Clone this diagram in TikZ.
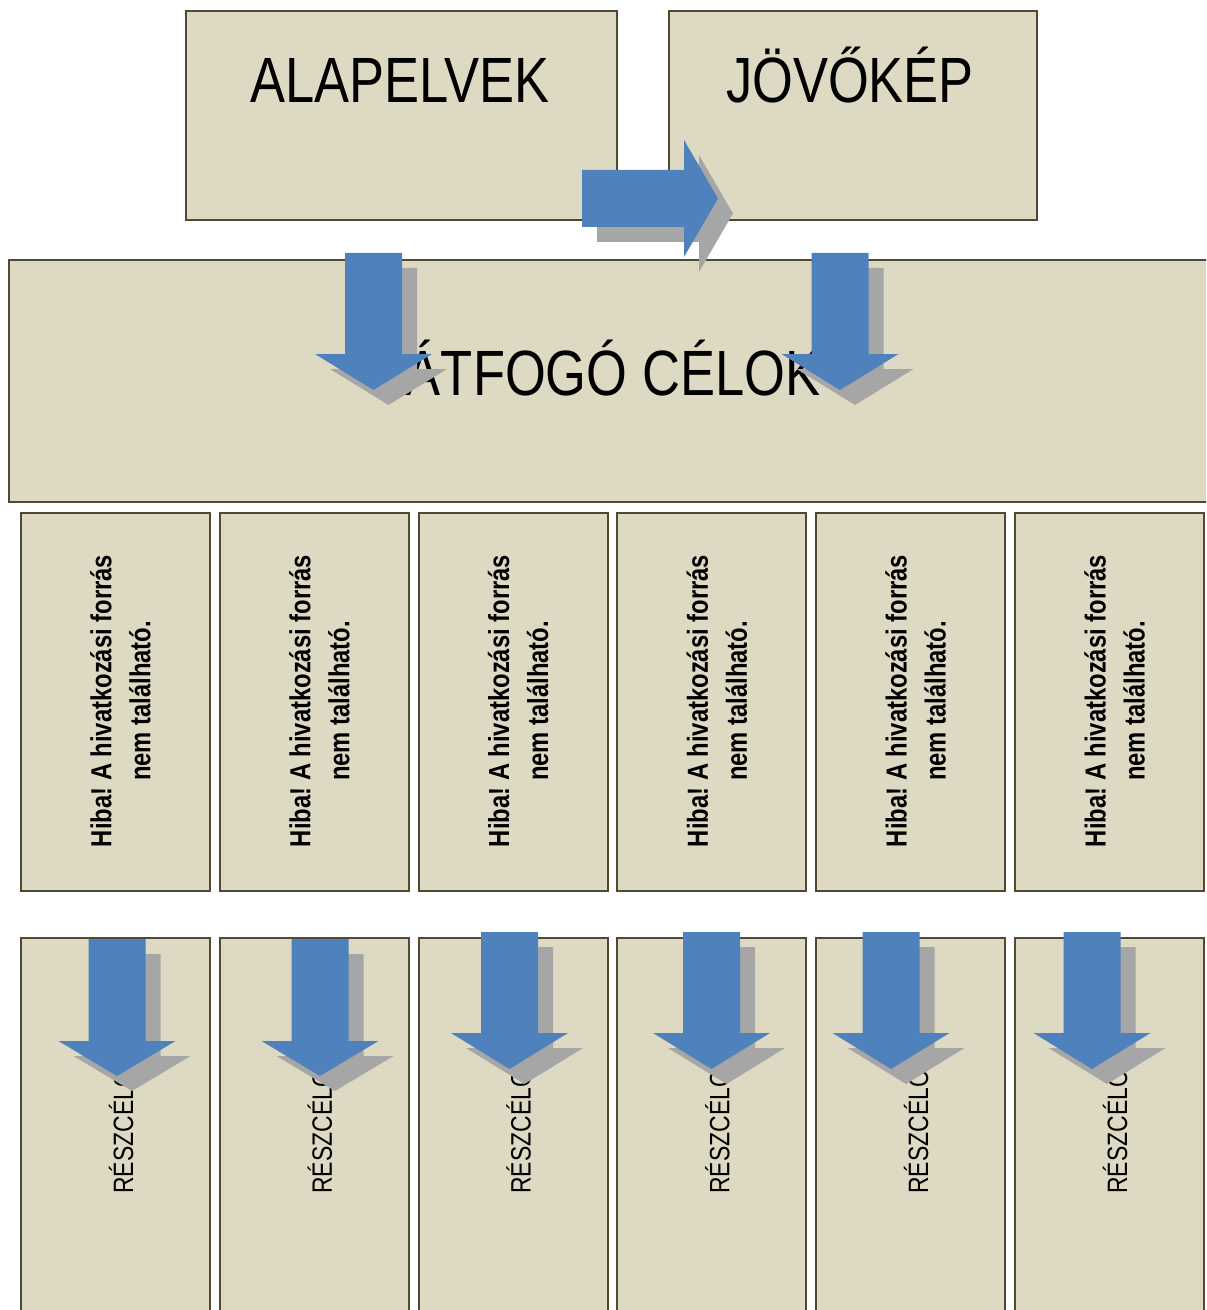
\documentclass[tikz,border=0pt]{standalone}
\usepackage{fontspec}
\setmainfont{Liberation Sans}[FakeStretch=0.82]
\definecolor{boxfill}{RGB}{221, 217, 195}
\definecolor{boxline}{RGB}{80, 74, 50}
\definecolor{arrowblue}{RGB}{79, 129, 189}
\definecolor{shadowgray}{RGB}{166, 166, 166}
\usepackage{tikz}
\frenchspacing

\begin{document}
\begin{tikzpicture}[x=0.5pt, y=-0.5pt,
  box/.style={draw=boxline, line width=1pt, fill=boxfill, inner sep=0pt, anchor=north west},
  title/.style={font=\fontsize{32}{38}\selectfont, inner sep=0pt, anchor=base},
  errtext/.style={font=\fontsize{14.5}{19.5}\selectfont\bfseries, rotate=90, align=center, inner sep=0pt},
  subtext/.style={font=\fontsize{14}{17}\selectfont, rotate=90, anchor=base west, inner sep=0pt},
]
\useasboundingbox (0,0) rectangle (1206,1310);
\clip (0,0) rectangle (1206,1310);

% Top row
\node[box, minimum width=215.5pt, minimum height=104.5pt] (alap) at (185, 10) {};
\node[title] (alaptxt) at (400, 103) {ALAPELVEK};
\node[box, minimum width=184pt, minimum height=104.5pt] (jovo) at (668, 10) {};
\node[title] (jovotxt) at (850, 103) {JÖVŐKÉP};

% Overall goals
\node[box, minimum width=603.5pt, minimum height=121pt] (atfogo) at (8, 259) {};
\node[title] (atfogotxt) at (613, 395) {ÁTFOGÓ CÉLOK};

% Columns
\foreach \i [evaluate=\i as \bx using 20+198.8*(\i-1)] in {1,...,6} {
  \node[box, minimum width=94.5pt, minimum height=189pt] (hiba\i) at (\bx, 512) {};
  \node[errtext] (hibatxt\i) at (\bx+100.5, 701) {Hiba! A hivatkozási forrás\\nem található.};
  \node[box, minimum width=94.5pt, minimum height=191.5pt] (resz\i) at (\bx, 937) {};
  \node[subtext] (resztxt\i) at (\bx+113, 1194) {RÉSZCÉLOK};
}

% Right arrow
\fill[shadowgray, shift={(15,15)}] (582,170) -- (684,170) -- (684,140) -- (718,198.5)
  -- (684,257) -- (684,227) -- (582,227) -- cycle;
\fill[arrowblue] (582,170) -- (684,170) -- (684,140) -- (718,198.5)
  -- (684,257) -- (684,227) -- (582,227) -- cycle;

% Down arrows
\foreach \cx/\ty/\hb/\tp in {373.5/253/354/390, 840/253/354/390,
    117/939/1041/1076, 320/939/1041/1076, 509.5/932/1033/1069,
    711.5/932/1033/1069, 891/932/1033/1069, 1092/932/1033/1069} {
  \fill[shadowgray, shift={(15,15)}] (\cx-28.5,\ty) -- (\cx+28.5,\ty) -- (\cx+28.5,\hb)
    -- (\cx+58.5,\hb) -- (\cx,\tp) -- (\cx-58.5,\hb) -- (\cx-28.5,\hb) -- cycle;
  \fill[arrowblue] (\cx-28.5,\ty) -- (\cx+28.5,\ty) -- (\cx+28.5,\hb)
    -- (\cx+58.5,\hb) -- (\cx,\tp) -- (\cx-58.5,\hb) -- (\cx-28.5,\hb) -- cycle;
}
\end{tikzpicture}
\end{document}
